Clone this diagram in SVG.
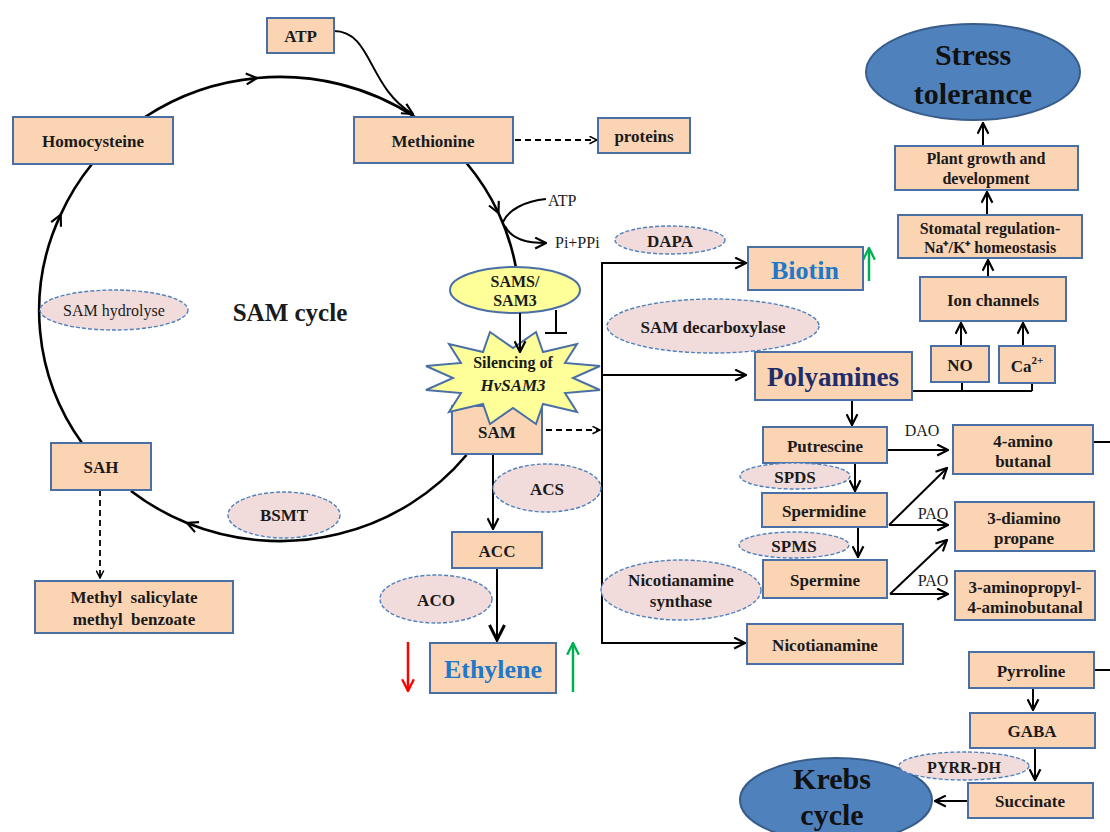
<svg xmlns="http://www.w3.org/2000/svg" width="1110" height="832" viewBox="0 0 1110 832">
<defs>
<style>
text{font-family:"Liberation Serif","Times New Roman",serif;fill:#1a1a1a;text-anchor:middle;dominant-baseline:central}
.b{font-weight:bold;font-size:17px}
.r{font-size:17px}
.box{fill:#FBD4B4;stroke:#4A6FA5;stroke-width:2}
.enz{fill:#F2DCDB;stroke:#4F81BD;stroke-width:1.4;stroke-dasharray:4 2}
.big{fill:#4F81BD;stroke:#385D8A;stroke-width:2}
.ln{fill:none;stroke:#000;stroke-width:2}
.cyc{fill:none;stroke:#000;stroke-width:2.6}
.dash{fill:none;stroke:#000;stroke-width:1.8;stroke-dasharray:6 4}
</style>
<marker id="a" viewBox="0 0 12 12" refX="11" refY="6" markerWidth="13" markerHeight="13" markerUnits="userSpaceOnUse" orient="auto"><path d="M1,1 L11,6 L1,11" fill="none" stroke="#000" stroke-width="2"/></marker>
<marker id="s" viewBox="0 0 12 12" refX="11" refY="6" markerWidth="9" markerHeight="9" markerUnits="userSpaceOnUse" orient="auto"><path d="M1,1 L11,6 L1,11" fill="none" stroke="#000" stroke-width="2"/></marker>
<marker id="t" viewBox="0 0 12 12" refX="11" refY="6" markerWidth="18" markerHeight="18" markerUnits="userSpaceOnUse" orient="auto"><path d="M1,1 L11,6 L1,11" fill="none" stroke="#000" stroke-width="2"/></marker>
<marker id="red" viewBox="0 0 12 12" refX="11" refY="6" markerWidth="14" markerHeight="14" markerUnits="userSpaceOnUse" orient="auto"><path d="M1,1 L11,6 L1,11" fill="none" stroke="#FF0000" stroke-width="2"/></marker>
<marker id="grn" viewBox="0 0 12 12" refX="11" refY="6" markerWidth="14" markerHeight="14" markerUnits="userSpaceOnUse" orient="auto"><path d="M1,1 L11,6 L1,11" fill="none" stroke="#00B050" stroke-width="2"/></marker>
</defs>
<rect width="1110" height="832" fill="#fff"/>

<g id="connectors">
<path class="cyc" d="M82,443 A240,232 0 0 1 60.7,214.6" marker-end="url(#a)"/>
<path class="cyc" d="M60.7,214.6 A240,232 0 0 1 92,164"/>
<path class="cyc" d="M145,117 A240,232 0 0 1 257,78" marker-end="url(#a)"/>
<path class="cyc" d="M257,78 A240,232 0 0 1 415,117"/>
<path class="cyc" d="M466.5,163 A240,232 0 0 1 498.5,213" marker-end="url(#a)"/>
<path class="cyc" d="M498.5,213 A240,232 0 0 1 516,268"/>
<path class="cyc" d="M466.5,455 A240,232 0 0 1 187,523" marker-end="url(#a)"/>
<path class="cyc" d="M187,523 A240,232 0 0 1 131,491"/>
<path class="ln" d="M334,31 C372,31 368,88 413,114" marker-end="url(#a)"/>
<path class="ln" d="M546,199 C525,201 508,210 503,222"/>
<path class="ln" d="M505,226 C512,240 528,243 546,243" marker-end="url(#a)"/>
<path class="dash" d="M515,140 L597,140" marker-end="url(#s)"/>
<path class="ln" d="M556,310 L556,333 M545,333 L567,333"/>
<path class="dash" d="M546,430 L600,430" marker-end="url(#s)"/>
<path class="ln" d="M602,262 L602,644"/>
<path class="ln" d="M602,263 L746,263" marker-end="url(#a)"/>
<path class="ln" d="M602,375 L746,375" marker-end="url(#a)"/>
<path class="ln" d="M602,643 L745,643" marker-end="url(#a)"/>
<path class="ln" d="M493,454 L493,529" marker-end="url(#a)"/>
<path class="ln" d="M497,568 L497,640" stroke-width="4" marker-end="url(#t)"/>
<path d="M408,642 L408,691" fill="none" stroke="#FF0000" stroke-width="2.5" marker-end="url(#red)"/>
<path d="M573,692 L573,643" fill="none" stroke="#00B050" stroke-width="2.5" marker-end="url(#grn)"/>
<path d="M869,281 L869,248" fill="none" stroke="#00B050" stroke-width="2.5" marker-end="url(#grn)"/>
<path class="dash" d="M100,490 L100,578" marker-end="url(#s)"/>
<path class="ln" d="M852,400 L852,425" marker-end="url(#a)"/>
<path class="ln" d="M855,463 L855,491" marker-end="url(#a)"/>
<path class="ln" d="M858,527 L858,557" marker-end="url(#a)"/>
<path class="ln" d="M885,450 L948,450" marker-end="url(#a)"/>
<path class="ln" d="M889,525 L947,468" marker-end="url(#a)"/>
<path class="ln" d="M889,525 L948,525" marker-end="url(#a)"/>
<path class="ln" d="M890,594 L947,540" marker-end="url(#a)"/>
<path class="ln" d="M890,594 L948,594" marker-end="url(#a)"/>
<path class="ln" d="M1093,442 L1110,442"/>
<path class="ln" d="M1094,670 L1110,670"/>
<path class="ln" d="M1033,688 L1033,710" marker-end="url(#a)"/>
<path class="ln" d="M1035,748 L1035,780" marker-end="url(#a)"/>
<path class="ln" d="M968,801 L935,801" marker-end="url(#a)"/>
<path class="ln" d="M912,391 L1032,391 M962,382 L962,391 M1032,383 L1032,391"/>
<path class="ln" d="M961,346 L961,323" marker-end="url(#a)"/>
<path class="ln" d="M1023,346 L1023,323" marker-end="url(#a)"/>
<path class="ln" d="M988,277 L988,260" marker-end="url(#a)"/>
<path class="ln" d="M987,215 L987,192" marker-end="url(#a)"/>
<path class="ln" d="M983,146 L983,123" marker-end="url(#a)"/>
</g>

<text x="290" y="312" style="font-weight:bold;font-size:25px">SAM cycle</text>
<text class="r" x="548" y="200" style="text-anchor:start;font-size:16px">ATP</text>
<text class="r" x="555" y="242" style="text-anchor:start;font-size:16px">Pi+PPi</text>
<text class="r" x="922" y="430" style="font-size:16px">DAO</text>
<text class="r" x="933" y="513" style="font-size:16px">PAO</text>
<text class="r" x="933" y="580" style="font-size:16px">PAO</text>

<g id="n-atp"><rect class="box" x="267" y="18" width="67" height="35"/><text class="b" x="300.5" y="36">ATP</text></g>
<g id="n-homocysteine"><rect class="box" x="13" y="117" width="160" height="47"/><text class="b" x="93" y="141">Homocysteine</text></g>
<g id="n-methionine"><rect class="box" x="354" y="117" width="159" height="46"/><text class="b" x="433" y="141">Methionine</text></g>
<g id="n-proteins"><rect class="box" x="598" y="118" width="92" height="35"/><text class="b" x="644" y="136">proteins</text></g>
<g id="n-sah"><rect class="box" x="51" y="443" width="100" height="47"/><text class="b" x="101" y="467">SAH</text></g>
<g id="n-methyl"><rect class="box" x="35" y="581" width="198" height="52"/><text class="b" x="134" y="597" style="word-spacing:4px">Methyl salicylate</text><text class="b" x="134" y="619" style="word-spacing:4px">methyl benzoate</text></g>
<g id="n-sam"><rect class="box" x="452" y="406" width="90" height="48"/><text class="b" x="497" y="432">SAM</text></g>
<g id="n-star"><polygon points="426,366 461,363 449,344 483,352 490,332 513,348 536,332 543,352 577,344 565,363 600,366 573,378 600,390 565,393 577,412 543,404 536,424 513,408 490,424 483,404 449,412 461,393 426,390 453,378" fill="#FFFF99" stroke="#4A6FA5" stroke-width="2"/><text class="b" x="513" y="362" style="font-size:16px">Silencing of</text><text class="b" x="513" y="385" style="font-style:italic">HvSAM3</text></g>
<g id="n-sams"><ellipse cx="515" cy="290" rx="65" ry="23" fill="#FFFF99" stroke="#4A6FA5" stroke-width="2"/><text class="b" x="515" y="281" style="font-size:16px">SAMS/</text><text class="b" x="515" y="300" style="font-size:16px">SAM3</text></g>
<path class="ln" d="M520,313 L520,352" marker-end="url(#a)"/>
<g id="n-acc"><rect class="box" x="452" y="532" width="90" height="36"/><text class="b" x="497" y="551">ACC</text></g>
<g id="n-ethylene"><rect class="box" x="430" y="643" width="126" height="50"/><text x="493" y="669" style="font-weight:bold;font-size:26px;fill:#1F78C8">Ethylene</text></g>
<g id="n-biotin"><rect class="box" x="748" y="247" width="115" height="43"/><text x="805" y="270" style="font-weight:bold;font-size:26px;fill:#1F78C8">Biotin</text></g>
<g id="n-polyamines"><rect class="box" x="755" y="352" width="157" height="48"/><text x="833" y="377" style="font-weight:bold;font-size:27px;fill:#1F2D6B">Polyamines</text></g>
<g id="n-nicotianamine"><rect class="box" x="747" y="624" width="156" height="40"/><text class="b" x="825" y="645">Nicotianamine</text></g>
<g id="n-putrescine"><rect class="box" x="763" y="427" width="124" height="36"/><text class="b" x="825" y="446">Putrescine</text></g>
<g id="n-spermidine"><rect class="box" x="762" y="493" width="125" height="34"/><text class="b" x="824" y="511">Spermidine</text></g>
<g id="n-spermine"><rect class="box" x="763" y="560" width="124" height="38"/><text class="b" x="825" y="580">Spermine</text></g>
<g id="n-aminobutanal"><rect class="box" x="953" y="425" width="140" height="49"/><text class="b" x="1023" y="441">4-amino</text><text class="b" x="1023" y="461">butanal</text></g>
<g id="n-diaminopropane"><rect class="box" x="955" y="502" width="139" height="49"/><text class="b" x="1024" y="518">3-diamino</text><text class="b" x="1024" y="538">propane</text></g>
<g id="n-aminopropyl"><rect class="box" x="955" y="571" width="140" height="49"/><text class="b" x="1025" y="587">3-aminopropyl-</text><text class="b" x="1025" y="607">4-aminobutanal</text></g>
<g id="n-no"><rect class="box" x="931" y="346" width="58" height="36"/><text class="b" x="960" y="365">NO</text></g>
<g id="n-ca"><rect class="box" x="999" y="346" width="56" height="37"/><text class="b" x="1027" y="366">Ca<tspan style="font-size:11px" dy="-6">2+</tspan></text></g>
<g id="n-ion"><rect class="box" x="920" y="277" width="146" height="44"/><text class="b" x="993" y="300">Ion channels</text></g>
<g id="n-stomatal"><rect class="box" x="898" y="215" width="184" height="43"/><text class="b" x="990" y="228" style="font-size:16px">Stomatal regulation-</text><text class="b" x="990" y="247" style="font-size:16px">Na⁺/K⁺ homeostasis</text></g>
<g id="n-plant"><rect class="box" x="895" y="146" width="183" height="44"/><text class="b" x="986" y="158" style="font-size:16px">Plant growth and</text><text class="b" x="986" y="178" style="font-size:16px">development</text></g>
<g id="n-stress"><ellipse class="big" cx="973" cy="72" rx="107" ry="48"/><text x="973" y="54" style="font-weight:bold;font-size:30px;fill:#111">Stress</text><text x="973" y="93" style="font-weight:bold;font-size:30px;fill:#111">tolerance</text></g>
<g id="n-pyrroline"><rect class="box" x="969" y="652" width="125" height="36"/><text class="b" x="1031" y="671">Pyrroline</text></g>
<g id="n-gaba"><rect class="box" x="970" y="713" width="125" height="35"/><text class="b" x="1032" y="731">GABA</text></g>
<g id="n-succinate"><rect class="box" x="968" y="783" width="125" height="35"/><text class="b" x="1030" y="801">Succinate</text></g>
<g id="n-krebs"><ellipse class="big" cx="836" cy="800" rx="96" ry="42"/><text x="832" y="778" style="font-weight:bold;font-size:30px;fill:#111">Krebs</text><text x="832" y="814" style="font-weight:bold;font-size:30px;fill:#111">cycle</text></g>

<g id="e-samhydrolyse"><ellipse class="enz" cx="114" cy="310" rx="74" ry="20"/><text class="r" x="114" y="310" style="font-size:16px">SAM hydrolyse</text></g>
<g id="e-bsmt"><ellipse class="enz" cx="284" cy="515" rx="56" ry="23"/><text class="b" x="284" y="515">BSMT</text></g>
<g id="e-dapa"><ellipse class="enz" cx="670" cy="240" rx="55" ry="14"/><text class="b" x="670" y="241">DAPA</text></g>
<g id="e-samdc"><ellipse class="enz" cx="713" cy="326" rx="106" ry="27"/><text class="b" x="713" y="327">SAM decarboxylase</text></g>
<g id="e-acs"><ellipse class="enz" cx="547" cy="488" rx="54" ry="24"/><text class="b" x="547" y="489">ACS</text></g>
<g id="e-aco"><ellipse class="enz" cx="436" cy="599" rx="56" ry="24"/><text class="b" x="436" y="600">ACO</text></g>
<g id="e-nas"><ellipse class="enz" cx="681" cy="590" rx="80" ry="30"/><text class="b" x="681" y="580">Nicotianamine</text><text class="b" x="681" y="601">synthase</text></g>
<g id="e-spds"><ellipse class="enz" cx="795" cy="476" rx="55" ry="13"/><text class="b" x="795" y="477">SPDS</text></g>
<g id="e-spms"><ellipse class="enz" cx="794" cy="545" rx="55" ry="13"/><text class="b" x="794" y="546">SPMS</text></g>
<g id="e-pyrrdh"><ellipse class="enz" cx="964" cy="766" rx="65" ry="14"/><text class="b" x="964" y="767" style="font-size:16px">PYRR-DH</text></g>
</svg>
